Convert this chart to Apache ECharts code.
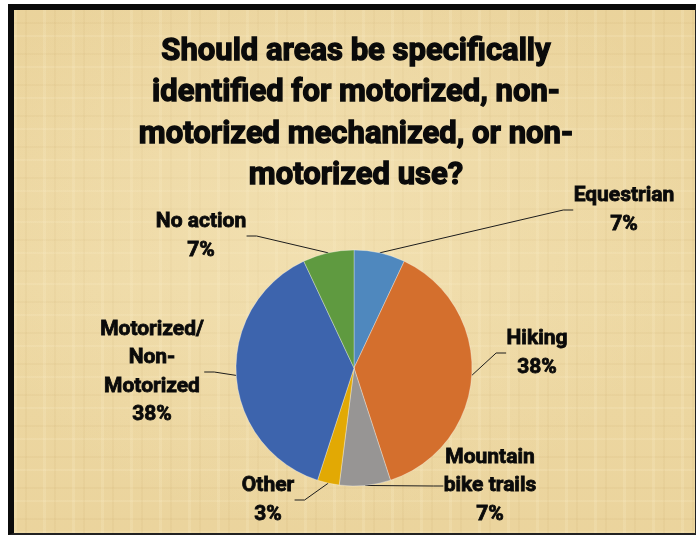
<!DOCTYPE html>
<html>
<head>
<meta charset="utf-8">
<script src="https://cdn.jsdelivr.net/npm/echarts@6/dist/echarts.min.js"></script>
<style>
  html, body { margin: 0; padding: 0; background: #ffffff; }
  #frame {
    position: absolute; left: 8px; top: 4px; width: 688px; height: 531px;
    box-sizing: border-box;
    border-top: 6px solid #0b0b0b; border-left: 6px solid #0b0b0b;
    border-right: 1px solid #222; border-bottom: 2px solid #222;
    background-color: #edd8a3;
    background-image:
      radial-gradient(ellipse at 45% 40%, rgba(248,234,194,0.45) 0%, rgba(248,234,194,0) 70%),
      repeating-linear-gradient(90deg, rgba(255,246,215,0.16) 0 3px, rgba(0,0,0,0) 3px 11px, rgba(170,130,60,0.06) 11px 13px, rgba(0,0,0,0) 13px 29px),
      repeating-linear-gradient(0deg, rgba(255,246,215,0.14) 0 2px, rgba(0,0,0,0) 2px 13px, rgba(170,130,60,0.06) 13px 15px, rgba(0,0,0,0) 15px 31px),
      linear-gradient(180deg, rgba(226,196,132,0.25), rgba(240,220,170,0.05) 50%, rgba(226,196,132,0.2));
  }
  #chart { position: absolute; left: 0; top: 0; width: 696px; height: 536px; }
</style>
</head>
<body>
<div id="frame"></div>
<div id="chart"></div>
<script>
// Survey answers and their shares (percent)
const categories = ['Equestrian', 'Hiking', 'Mountain bike trails', 'Other', 'Motorized/Non-Motorized', 'No action'];
const shares = [7, 38, 7, 3, 38, 7];
const sliceColors = ['#4f88be', '#d46f2d', '#979594', '#e2a904', '#3d64ad', '#5f9a40'];

const titleText = 'Should areas be specifically\nidentified for motorized, non-\nmotorized mechanized, or non-\nmotorized use?';

// where each outside label block is centred
const labelSpots = [
  [624, 210], [537, 353], [490, 486], [268, 500], [152, 372], [201, 236]
];

// break long answer names onto several lines
function wrapName(name) {
  return name
    .replace('Mountain ', 'Mountain\n')
    .replace('/', '/\n')
    .replace('Non-', 'Non-\n');
}

const chart = echarts.init(document.getElementById('chart'), null, { renderer: 'canvas' });

chart.setOption({
  backgroundColor: 'transparent',
  animation: false,
  title: {
    text: titleText,
    left: 356,
    top: 31,
    padding: 0,
    textAlign: 'center',
    textStyle: {
      fontFamily: 'Roboto, "Liberation Sans", sans-serif',
      fontWeight: 'bold',
      fontSize: 31,
      lineHeight: 41.5,
      color: '#0a0a0a',
      textBorderColor: '#0a0a0a',
      textBorderWidth: 1.3
    }
  },
  series: [{
    type: 'pie',
    center: [354, 368],
    radius: 118,
    startAngle: 90,
    clockwise: true,
    avoidLabelOverlap: false,
    itemStyle: { borderColor: 'rgba(255,255,255,0.4)', borderWidth: 0.8 },
    label: {
      show: true,
      position: 'outside',
      formatter: p => wrapName(p.name) + '\n' + p.value + '%',
      fontFamily: 'Roboto, "Liberation Sans", sans-serif',
      fontWeight: 'bold',
      fontSize: 21,
      lineHeight: 28.5,
      color: '#0a0a0a',
      textBorderColor: '#0a0a0a',
      textBorderWidth: 0.8,
      align: 'center'
    },
    labelLine: {
      show: true,
      length: 10,
      length2: 10,
      lineStyle: { color: '#1c1c1c', width: 1 }
    },
    labelLayout: params => {
      const s = labelSpots[params.dataIndex];
      return { x: s[0], y: s[1], align: 'center', verticalAlign: 'middle' };
    },
    emphasis: { disabled: true },
    data: categories.map((name, i) => ({
      name: name,
      value: shares[i],
      itemStyle: { color: sliceColors[i] }
    }))
  }]
});
</script>
</body>
</html>
